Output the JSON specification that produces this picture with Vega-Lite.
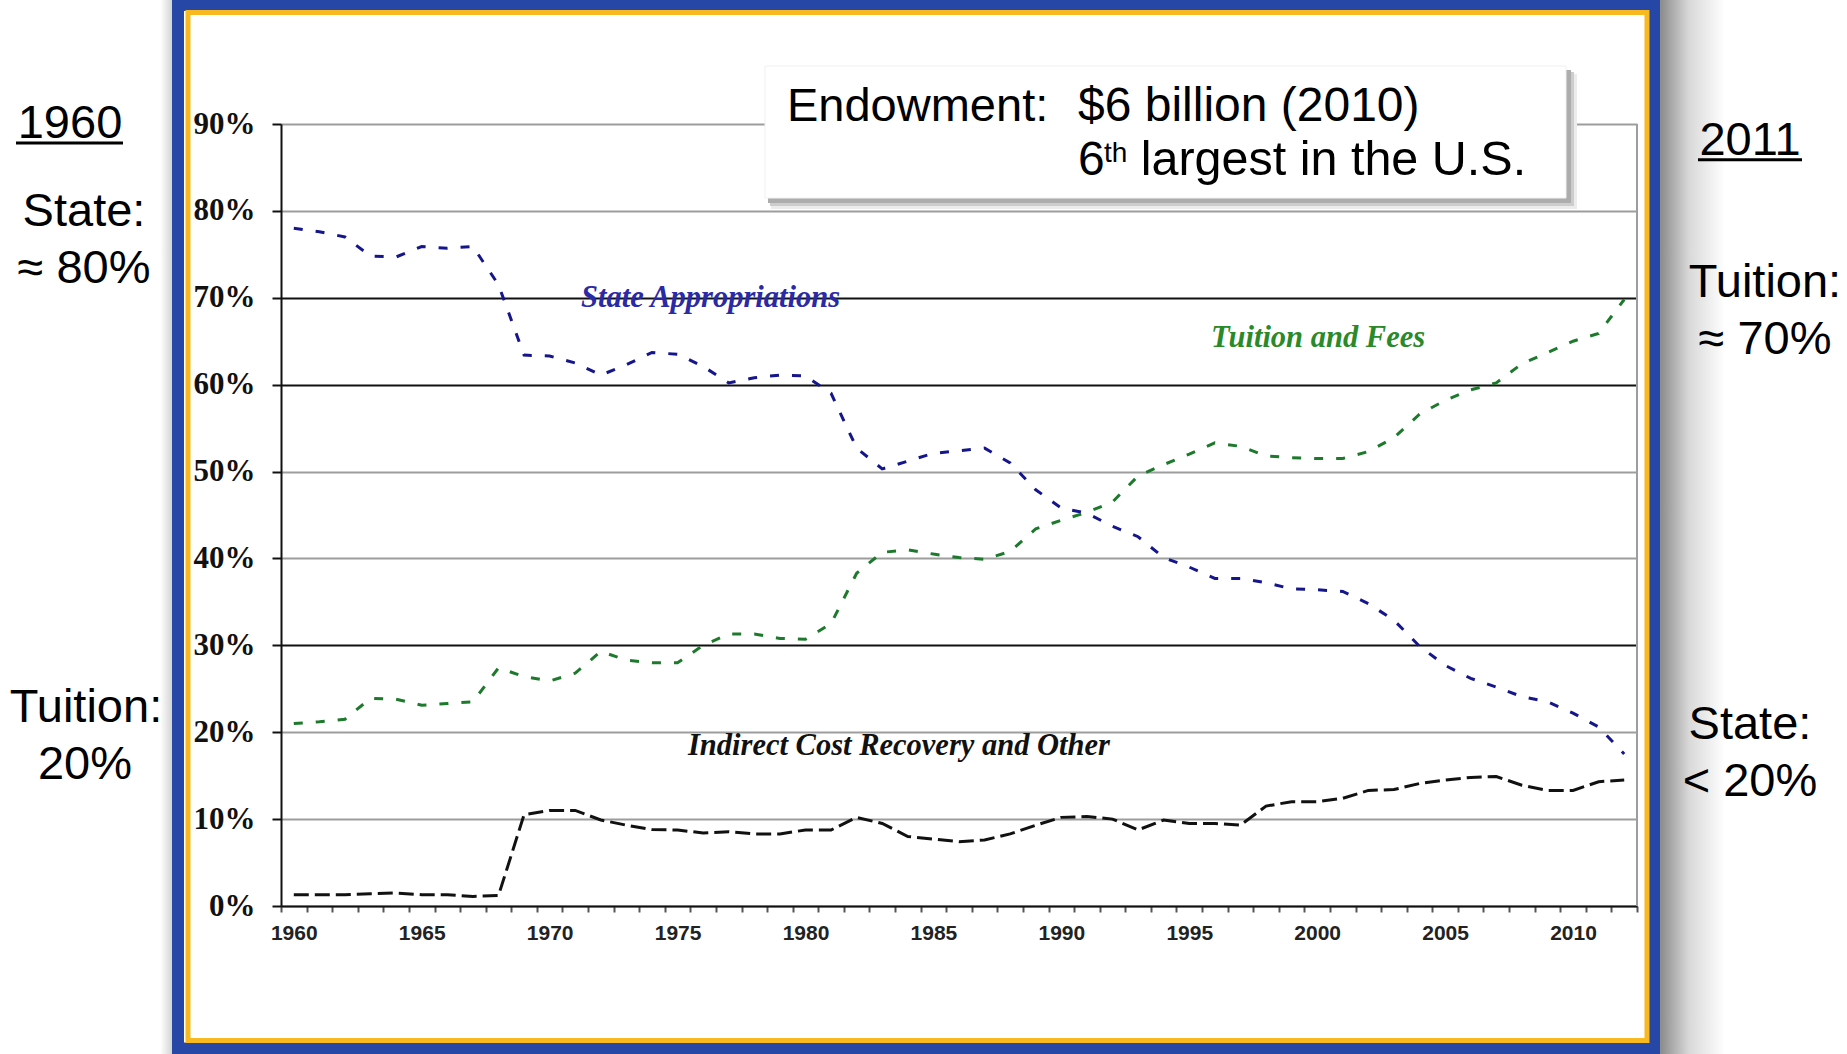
{
  "$schema": "https://vega.github.io/schema/vega-lite/v6.json",
  "width": 1356,
  "height": 782,
  "autosize": "none",
  "padding": {"left": 281, "top": 124, "right": 210, "bottom": 148},
  "background": "white",
  "config": {"view": {"stroke": null}},
  "datasets": {
    "one": [{}],
    "series": [
      {"year": 1960, "series": "State Appropriations", "pct": 78.0},
      {"year": 1961, "series": "State Appropriations", "pct": 77.6},
      {"year": 1962, "series": "State Appropriations", "pct": 77.0},
      {"year": 1963, "series": "State Appropriations", "pct": 74.8},
      {"year": 1964, "series": "State Appropriations", "pct": 74.7},
      {"year": 1965, "series": "State Appropriations", "pct": 75.9},
      {"year": 1966, "series": "State Appropriations", "pct": 75.7},
      {"year": 1967, "series": "State Appropriations", "pct": 75.9},
      {"year": 1968, "series": "State Appropriations", "pct": 71.5},
      {"year": 1969, "series": "State Appropriations", "pct": 63.4},
      {"year": 1970, "series": "State Appropriations", "pct": 63.3},
      {"year": 1971, "series": "State Appropriations", "pct": 62.5},
      {"year": 1972, "series": "State Appropriations", "pct": 61.1},
      {"year": 1973, "series": "State Appropriations", "pct": 62.3},
      {"year": 1974, "series": "State Appropriations", "pct": 63.7},
      {"year": 1975, "series": "State Appropriations", "pct": 63.5},
      {"year": 1976, "series": "State Appropriations", "pct": 62.1},
      {"year": 1977, "series": "State Appropriations", "pct": 60.2},
      {"year": 1978, "series": "State Appropriations", "pct": 60.8},
      {"year": 1979, "series": "State Appropriations", "pct": 61.1},
      {"year": 1980, "series": "State Appropriations", "pct": 61.0},
      {"year": 1981, "series": "State Appropriations", "pct": 59.0},
      {"year": 1982, "series": "State Appropriations", "pct": 52.7},
      {"year": 1983, "series": "State Appropriations", "pct": 50.3},
      {"year": 1984, "series": "State Appropriations", "pct": 51.2},
      {"year": 1985, "series": "State Appropriations", "pct": 52.1},
      {"year": 1986, "series": "State Appropriations", "pct": 52.4},
      {"year": 1987, "series": "State Appropriations", "pct": 52.7},
      {"year": 1988, "series": "State Appropriations", "pct": 51.0},
      {"year": 1989, "series": "State Appropriations", "pct": 47.9},
      {"year": 1990, "series": "State Appropriations", "pct": 45.8},
      {"year": 1991, "series": "State Appropriations", "pct": 45.2},
      {"year": 1992, "series": "State Appropriations", "pct": 43.7},
      {"year": 1993, "series": "State Appropriations", "pct": 42.5},
      {"year": 1994, "series": "State Appropriations", "pct": 40.1},
      {"year": 1995, "series": "State Appropriations", "pct": 39.0},
      {"year": 1996, "series": "State Appropriations", "pct": 37.7},
      {"year": 1997, "series": "State Appropriations", "pct": 37.7},
      {"year": 1998, "series": "State Appropriations", "pct": 37.2},
      {"year": 1999, "series": "State Appropriations", "pct": 36.5},
      {"year": 2000, "series": "State Appropriations", "pct": 36.4},
      {"year": 2001, "series": "State Appropriations", "pct": 36.2},
      {"year": 2002, "series": "State Appropriations", "pct": 34.8},
      {"year": 2003, "series": "State Appropriations", "pct": 32.9},
      {"year": 2004, "series": "State Appropriations", "pct": 29.9},
      {"year": 2005, "series": "State Appropriations", "pct": 27.7},
      {"year": 2006, "series": "State Appropriations", "pct": 26.2},
      {"year": 2007, "series": "State Appropriations", "pct": 25.2},
      {"year": 2008, "series": "State Appropriations", "pct": 24.1},
      {"year": 2009, "series": "State Appropriations", "pct": 23.5},
      {"year": 2010, "series": "State Appropriations", "pct": 22.2},
      {"year": 2011, "series": "State Appropriations", "pct": 20.6},
      {"year": 2012, "series": "State Appropriations", "pct": 17.5},
      {"year": 1960, "series": "Tuition and Fees", "pct": 21.0},
      {"year": 1961, "series": "Tuition and Fees", "pct": 21.2},
      {"year": 1962, "series": "Tuition and Fees", "pct": 21.5},
      {"year": 1963, "series": "Tuition and Fees", "pct": 23.9},
      {"year": 1964, "series": "Tuition and Fees", "pct": 23.8},
      {"year": 1965, "series": "Tuition and Fees", "pct": 23.1},
      {"year": 1966, "series": "Tuition and Fees", "pct": 23.3},
      {"year": 1967, "series": "Tuition and Fees", "pct": 23.5},
      {"year": 1968, "series": "Tuition and Fees", "pct": 27.4},
      {"year": 1969, "series": "Tuition and Fees", "pct": 26.4},
      {"year": 1970, "series": "Tuition and Fees", "pct": 25.9},
      {"year": 1971, "series": "Tuition and Fees", "pct": 26.8},
      {"year": 1972, "series": "Tuition and Fees", "pct": 29.3},
      {"year": 1973, "series": "Tuition and Fees", "pct": 28.3},
      {"year": 1974, "series": "Tuition and Fees", "pct": 28.0},
      {"year": 1975, "series": "Tuition and Fees", "pct": 28.0},
      {"year": 1976, "series": "Tuition and Fees", "pct": 30.0},
      {"year": 1977, "series": "Tuition and Fees", "pct": 31.3},
      {"year": 1978, "series": "Tuition and Fees", "pct": 31.3},
      {"year": 1979, "series": "Tuition and Fees", "pct": 30.8},
      {"year": 1980, "series": "Tuition and Fees", "pct": 30.7},
      {"year": 1981, "series": "Tuition and Fees", "pct": 32.5},
      {"year": 1982, "series": "Tuition and Fees", "pct": 38.3},
      {"year": 1983, "series": "Tuition and Fees", "pct": 40.7},
      {"year": 1984, "series": "Tuition and Fees", "pct": 41.0},
      {"year": 1985, "series": "Tuition and Fees", "pct": 40.5},
      {"year": 1986, "series": "Tuition and Fees", "pct": 40.1},
      {"year": 1987, "series": "Tuition and Fees", "pct": 39.9},
      {"year": 1988, "series": "Tuition and Fees", "pct": 40.8},
      {"year": 1989, "series": "Tuition and Fees", "pct": 43.4},
      {"year": 1990, "series": "Tuition and Fees", "pct": 44.4},
      {"year": 1991, "series": "Tuition and Fees", "pct": 45.3},
      {"year": 1992, "series": "Tuition and Fees", "pct": 46.5},
      {"year": 1993, "series": "Tuition and Fees", "pct": 49.5},
      {"year": 1994, "series": "Tuition and Fees", "pct": 50.8},
      {"year": 1995, "series": "Tuition and Fees", "pct": 52.0},
      {"year": 1996, "series": "Tuition and Fees", "pct": 53.3},
      {"year": 1997, "series": "Tuition and Fees", "pct": 52.9},
      {"year": 1998, "series": "Tuition and Fees", "pct": 51.8},
      {"year": 1999, "series": "Tuition and Fees", "pct": 51.6},
      {"year": 2000, "series": "Tuition and Fees", "pct": 51.5},
      {"year": 2001, "series": "Tuition and Fees", "pct": 51.5},
      {"year": 2002, "series": "Tuition and Fees", "pct": 52.3},
      {"year": 2003, "series": "Tuition and Fees", "pct": 53.9},
      {"year": 2004, "series": "Tuition and Fees", "pct": 56.6},
      {"year": 2005, "series": "Tuition and Fees", "pct": 58.2},
      {"year": 2006, "series": "Tuition and Fees", "pct": 59.4},
      {"year": 2007, "series": "Tuition and Fees", "pct": 60.2},
      {"year": 2008, "series": "Tuition and Fees", "pct": 62.4},
      {"year": 2009, "series": "Tuition and Fees", "pct": 63.7},
      {"year": 2010, "series": "Tuition and Fees", "pct": 65.0},
      {"year": 2011, "series": "Tuition and Fees", "pct": 65.9},
      {"year": 2012, "series": "Tuition and Fees", "pct": 69.8},
      {"year": 1960, "series": "Indirect Cost Recovery and Other", "pct": 1.3},
      {"year": 1961, "series": "Indirect Cost Recovery and Other", "pct": 1.3},
      {"year": 1962, "series": "Indirect Cost Recovery and Other", "pct": 1.3},
      {"year": 1963, "series": "Indirect Cost Recovery and Other", "pct": 1.4},
      {"year": 1964, "series": "Indirect Cost Recovery and Other", "pct": 1.5},
      {"year": 1965, "series": "Indirect Cost Recovery and Other", "pct": 1.3},
      {"year": 1966, "series": "Indirect Cost Recovery and Other", "pct": 1.3},
      {"year": 1967, "series": "Indirect Cost Recovery and Other", "pct": 1.1},
      {"year": 1968, "series": "Indirect Cost Recovery and Other", "pct": 1.2},
      {"year": 1969, "series": "Indirect Cost Recovery and Other", "pct": 10.5},
      {"year": 1970, "series": "Indirect Cost Recovery and Other", "pct": 11.0},
      {"year": 1971, "series": "Indirect Cost Recovery and Other", "pct": 11.0},
      {"year": 1972, "series": "Indirect Cost Recovery and Other", "pct": 9.9},
      {"year": 1973, "series": "Indirect Cost Recovery and Other", "pct": 9.3},
      {"year": 1974, "series": "Indirect Cost Recovery and Other", "pct": 8.8},
      {"year": 1975, "series": "Indirect Cost Recovery and Other", "pct": 8.75},
      {"year": 1976, "series": "Indirect Cost Recovery and Other", "pct": 8.4},
      {"year": 1977, "series": "Indirect Cost Recovery and Other", "pct": 8.55},
      {"year": 1978, "series": "Indirect Cost Recovery and Other", "pct": 8.3},
      {"year": 1979, "series": "Indirect Cost Recovery and Other", "pct": 8.3},
      {"year": 1980, "series": "Indirect Cost Recovery and Other", "pct": 8.75},
      {"year": 1981, "series": "Indirect Cost Recovery and Other", "pct": 8.75},
      {"year": 1982, "series": "Indirect Cost Recovery and Other", "pct": 10.2},
      {"year": 1983, "series": "Indirect Cost Recovery and Other", "pct": 9.5},
      {"year": 1984, "series": "Indirect Cost Recovery and Other", "pct": 8.0},
      {"year": 1985, "series": "Indirect Cost Recovery and Other", "pct": 7.7},
      {"year": 1986, "series": "Indirect Cost Recovery and Other", "pct": 7.4},
      {"year": 1987, "series": "Indirect Cost Recovery and Other", "pct": 7.6},
      {"year": 1988, "series": "Indirect Cost Recovery and Other", "pct": 8.3},
      {"year": 1989, "series": "Indirect Cost Recovery and Other", "pct": 9.3},
      {"year": 1990, "series": "Indirect Cost Recovery and Other", "pct": 10.2},
      {"year": 1991, "series": "Indirect Cost Recovery and Other", "pct": 10.3},
      {"year": 1992, "series": "Indirect Cost Recovery and Other", "pct": 10.0},
      {"year": 1993, "series": "Indirect Cost Recovery and Other", "pct": 8.75},
      {"year": 1994, "series": "Indirect Cost Recovery and Other", "pct": 9.9},
      {"year": 1995, "series": "Indirect Cost Recovery and Other", "pct": 9.5},
      {"year": 1996, "series": "Indirect Cost Recovery and Other", "pct": 9.5},
      {"year": 1997, "series": "Indirect Cost Recovery and Other", "pct": 9.3},
      {"year": 1998, "series": "Indirect Cost Recovery and Other", "pct": 11.5},
      {"year": 1999, "series": "Indirect Cost Recovery and Other", "pct": 12.0},
      {"year": 2000, "series": "Indirect Cost Recovery and Other", "pct": 12.0},
      {"year": 2001, "series": "Indirect Cost Recovery and Other", "pct": 12.4},
      {"year": 2002, "series": "Indirect Cost Recovery and Other", "pct": 13.3},
      {"year": 2003, "series": "Indirect Cost Recovery and Other", "pct": 13.4},
      {"year": 2004, "series": "Indirect Cost Recovery and Other", "pct": 14.1},
      {"year": 2005, "series": "Indirect Cost Recovery and Other", "pct": 14.5},
      {"year": 2006, "series": "Indirect Cost Recovery and Other", "pct": 14.8},
      {"year": 2007, "series": "Indirect Cost Recovery and Other", "pct": 14.9},
      {"year": 2008, "series": "Indirect Cost Recovery and Other", "pct": 13.9},
      {"year": 2009, "series": "Indirect Cost Recovery and Other", "pct": 13.3},
      {"year": 2010, "series": "Indirect Cost Recovery and Other", "pct": 13.3},
      {"year": 2011, "series": "Indirect Cost Recovery and Other", "pct": 14.3},
      {"year": 2012, "series": "Indirect Cost Recovery and Other", "pct": 14.5}
    ]
  },
  "data": {"name": "one"},
  "layer": [
    {
      "mark": {"type": "rect", "color": {"gradient": "linear", "x1": 0, "x2": 1, "y1": 0, "y2": 0, "stops": [{"offset": 0, "color": "#8a8a8a"}, {"offset": 0.45, "color": "#d9d9d9"}, {"offset": 1, "color": "#ffffff"}]}},
      "encoding": {"x": {"datum": 2013.4}, "x2": {"datum": 2015.94}, "y": {"datum": 104.3}, "y2": {"datum": -17.1}}
    },
    {
      "mark": {"type": "rect", "color": {"gradient": "linear", "x1": 0, "x2": 1, "y1": 0, "y2": 0, "stops": [{"offset": 0, "color": "#ffffff"}, {"offset": 1, "color": "#d4d4d4"}]}},
      "encoding": {"x": {"datum": 1954.78}, "x2": {"datum": 1955.24}, "y": {"datum": 104.3}, "y2": {"datum": -17.1}}
    },
    {
      "mark": {"type": "rect", "fill": "transparent", "stroke": "#2747a6", "strokeWidth": 12},
      "encoding": {"x": {"datum": 1955.474}, "x2": {"datum": 2013.164}, "y": {"datum": 103.694}, "y2": {"datum": -16.387}}
    },
    {
      "mark": {"type": "rect", "fill": "transparent", "stroke": "#f8b820", "strokeWidth": 5},
      "encoding": {"x": {"datum": 1955.865}, "x2": {"datum": 2012.89}, "y": {"datum": 102.831}, "y2": {"datum": -15.466}}
    },
    {
      "mark": {"type": "rule", "color": "#9d9d9d", "strokeWidth": 2},
      "encoding": {"x": {"datum": 2012.5}, "y": {"datum": 0}, "y2": {"datum": 90}}
    },
    {
      "data": {"name": "series"},
      "mark": {"type": "line", "strokeWidth": 3},
      "encoding": {
        "x": {
          "field": "year", "type": "quantitative",
          "scale": {"domain": [1959.5, 2012.5], "nice": false, "zero": false},
          "axis": {
            "title": null, "grid": false, "tickCount": 80,
            "values": [1959.5, 1960.5, 1961.5, 1962.5, 1963.5, 1964.5, 1965.5, 1966.5, 1967.5, 1968.5, 1969.5, 1970.5, 1971.5, 1972.5, 1973.5, 1974.5, 1975.5, 1976.5, 1977.5, 1978.5, 1979.5, 1980.5, 1981.5, 1982.5, 1983.5, 1984.5, 1985.5, 1986.5, 1987.5, 1988.5, 1989.5, 1990.5, 1991.5, 1992.5, 1993.5, 1994.5, 1995.5, 1996.5, 1997.5, 1998.5, 1999.5, 2000.5, 2001.5, 2002.5, 2003.5, 2004.5, 2005.5, 2006.5, 2007.5, 2008.5, 2009.5, 2010.5, 2011.5, 2012.5],
            "labelExpr": "((datum.value + 0.5) % 5 == 0) ? ('' + (datum.value + 0.5)) : ''",
            "labelOffset": 12.8,
            "labelOverlap": false, "labelFlush": false,
            "tickSize": 6, "tickWidth": 2, "tickColor": "#555555",
            "domainColor": "#111111", "domainWidth": 2,
            "labelFont": "Liberation Sans", "labelFontWeight": "bold", "labelFontSize": 21, "labelColor": "#222222", "labelPadding": 10
          }
        },
        "y": {
          "field": "pct", "type": "quantitative",
          "scale": {"domain": [0, 90], "nice": false, "zero": true},
          "axis": {
            "title": null, "tickCount": 20,
            "values": [0, 10, 20, 30, 40, 50, 60, 70, 80, 90],
            "labelExpr": "datum.value + '%'",
            "grid": true,
            "gridColor": {"condition": {"test": "datum.value == 30 || datum.value == 60 || datum.value == 70", "value": "#111111"}, "value": "#9d9d9d"},
            "gridWidth": 2,
            "tickSize": 9, "tickWidth": 2, "tickColor": "#111111",
            "domainColor": "#111111", "domainWidth": 2,
            "labelFont": "Liberation Serif", "labelFontWeight": "bold", "labelFontSize": 31, "labelColor": "#111111", "labelPadding": 17
          }
        },
        "color": {
          "field": "series", "type": "nominal", "legend": null,
          "scale": {"domain": ["State Appropriations", "Tuition and Fees", "Indirect Cost Recovery and Other"], "range": ["#16168c", "#1d7a2c", "#111111"]}
        },
        "strokeDash": {
          "field": "series", "type": "nominal", "legend": null,
          "scale": {"domain": ["State Appropriations", "Tuition and Fees", "Indirect Cost Recovery and Other"], "range": [[9, 13], [9, 13], [15, 6]]}
        }
      }
    },
    {
      "mark": {"type": "text", "text": "State Appropriations", "font": "Liberation Serif", "fontStyle": "italic", "fontWeight": "bold", "fontSize": 30.5, "color": "#2a2aa6", "align": "left", "baseline": "alphabetic"},
      "encoding": {"x": {"datum": 1971.225}, "y": {"datum": 68.9}}
    },
    {
      "mark": {"type": "text", "text": "Tuition and Fees", "font": "Liberation Serif", "fontStyle": "italic", "fontWeight": "bold", "fontSize": 30.5, "color": "#2a8a2a", "align": "left", "baseline": "alphabetic"},
      "encoding": {"x": {"datum": 1995.849}, "y": {"datum": 64.34}}
    },
    {
      "mark": {"type": "text", "text": "Indirect Cost Recovery and Other", "font": "Liberation Serif", "fontStyle": "italic", "fontWeight": "bold", "fontSize": 30.5, "color": "#111111", "align": "left", "baseline": "alphabetic"},
      "encoding": {"x": {"datum": 1975.407}, "y": {"datum": 17.39}}
    },
    {
      "mark": {"type": "rect", "color": "#ececec"},
      "encoding": {"x": {"datum": 1978.651}, "x2": {"datum": 2010.155}, "y": {"datum": 95.754}, "y2": {"datum": 80.219}}
    },
    {
      "mark": {"type": "rect", "color": "#cdcdcd"},
      "encoding": {"x": {"datum": 1978.612}, "x2": {"datum": 2010.038}, "y": {"datum": 95.984}, "y2": {"datum": 80.564}}
    },
    {
      "mark": {"type": "rect", "color": "#adadad"},
      "encoding": {"x": {"datum": 1978.534}, "x2": {"datum": 2009.921}, "y": {"datum": 96.214}, "y2": {"datum": 80.909}}
    },
    {
      "mark": {"type": "rect", "color": "#ffffff", "stroke": "#f0f0f0", "strokeWidth": 1},
      "encoding": {"x": {"datum": 1978.417}, "x2": {"datum": 2009.725}, "y": {"datum": 96.67}, "y2": {"datum": 81.48}}
    },
    {
      "mark": {"type": "text", "text": "Endowment:", "font": "Liberation Sans", "fontSize": 47, "color": "#000000", "align": "left", "baseline": "alphabetic"},
      "encoding": {"x": {"datum": 1979.277}, "y": {"datum": 90.35}}
    },
    {
      "mark": {"type": "text", "text": "$6 billion (2010)", "font": "Liberation Sans", "fontSize": 48, "color": "#000000", "align": "left", "baseline": "alphabetic"},
      "encoding": {"x": {"datum": 1990.651}, "y": {"datum": 90.35}}
    },
    {
      "mark": {"type": "text", "text": "6", "font": "Liberation Sans", "fontSize": 48, "color": "#000000", "align": "left", "baseline": "alphabetic"},
      "encoding": {"x": {"datum": 1990.651}, "y": {"datum": 84.13}}
    },
    {
      "mark": {"type": "text", "text": "th", "font": "Liberation Sans", "fontSize": 28, "color": "#000000", "align": "left", "baseline": "alphabetic"},
      "encoding": {"x": {"datum": 1991.67}, "y": {"datum": 85.63}}
    },
    {
      "mark": {"type": "text", "text": "largest in the U.S.", "font": "Liberation Sans", "fontSize": 48.5, "color": "#000000", "align": "left", "baseline": "alphabetic"},
      "encoding": {"x": {"datum": 1993.1}, "y": {"datum": 84.13}}
    },
    {
      "mark": {"type": "text", "text": "1960", "font": "Liberation Sans", "fontSize": 47, "color": "#000000", "align": "center", "baseline": "alphabetic"},
      "encoding": {"x": {"datum": 1951.253}, "y": {"datum": 88.39}}
    },
    {
      "mark": {"type": "rule", "color": "#000000", "strokeWidth": 3},
      "encoding": {"x": {"datum": 1949.142}, "x2": {"datum": 1953.324}, "y": {"datum": 87.81}}
    },
    {
      "mark": {"type": "text", "text": "State:", "font": "Liberation Sans", "fontSize": 47, "color": "#000000", "align": "center", "baseline": "alphabetic"},
      "encoding": {"x": {"datum": 1951.8}, "y": {"datum": 78.3}}
    },
    {
      "mark": {"type": "text", "text": "≈ 80%", "font": "Liberation Sans", "fontSize": 47, "color": "#000000", "align": "center", "baseline": "alphabetic"},
      "encoding": {"x": {"datum": 1951.8}, "y": {"datum": 71.74}}
    },
    {
      "mark": {"type": "text", "text": "Tuition:", "font": "Liberation Sans", "fontSize": 47, "color": "#000000", "align": "center", "baseline": "alphabetic"},
      "encoding": {"x": {"datum": 1951.878}, "y": {"datum": 21.2}}
    },
    {
      "mark": {"type": "text", "text": "20%", "font": "Liberation Sans", "fontSize": 47, "color": "#000000", "align": "center", "baseline": "alphabetic"},
      "encoding": {"x": {"datum": 1951.839}, "y": {"datum": 14.64}}
    },
    {
      "mark": {"type": "text", "text": "2011", "font": "Liberation Sans", "fontSize": 47, "color": "#000000", "align": "center", "baseline": "alphabetic"},
      "encoding": {"x": {"datum": 2016.916}, "y": {"datum": 86.45}}
    },
    {
      "mark": {"type": "rule", "color": "#000000", "strokeWidth": 3},
      "encoding": {"x": {"datum": 2014.884}, "x2": {"datum": 2018.949}, "y": {"datum": 85.88}}
    },
    {
      "mark": {"type": "text", "text": "Tuition:", "font": "Liberation Sans", "fontSize": 47, "color": "#000000", "align": "center", "baseline": "alphabetic"},
      "encoding": {"x": {"datum": 2017.502}, "y": {"datum": 70.09}}
    },
    {
      "mark": {"type": "text", "text": "≈ 70%", "font": "Liberation Sans", "fontSize": 47, "color": "#000000", "align": "center", "baseline": "alphabetic"},
      "encoding": {"x": {"datum": 2017.502}, "y": {"datum": 63.53}}
    },
    {
      "mark": {"type": "text", "text": "State:", "font": "Liberation Sans", "fontSize": 47, "color": "#000000", "align": "center", "baseline": "alphabetic"},
      "encoding": {"x": {"datum": 2016.916}, "y": {"datum": 19.23}}
    },
    {
      "mark": {"type": "text", "text": "< 20%", "font": "Liberation Sans", "fontSize": 47, "color": "#000000", "align": "center", "baseline": "alphabetic"},
      "encoding": {"x": {"datum": 2016.916}, "y": {"datum": 12.67}}
    }
  ]
}
